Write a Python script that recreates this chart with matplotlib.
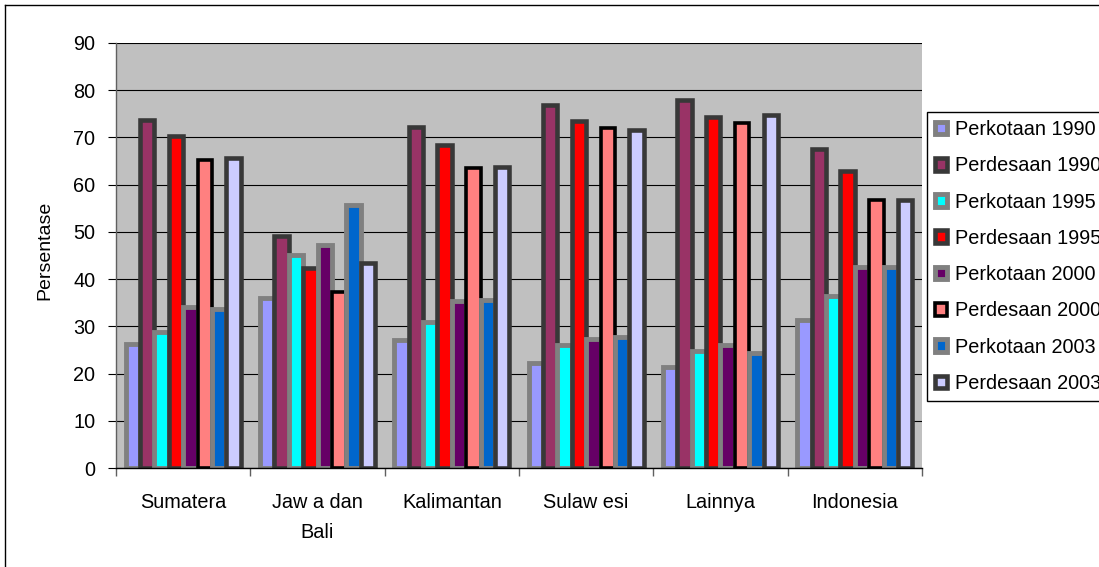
import numpy as np
import matplotlib
matplotlib.use("Agg")
import matplotlib.pyplot as plt
from matplotlib.lines import Line2D

plt.rcParams['font.family'] = ['Liberation Sans', 'DejaVu Sans']

# Data
regions = ["Sumatera", "Jaw a dan\nBali", "Kalimantan", "Sulaw esi", "Lainnya", "Indonesia"]

perkotaan_1990 = [26.3, 36.0, 27.1, 22.2, 21.4, 31.4]
perdesaan_1990 = [73.8, 49.2, 72.2, 76.9, 78.0, 67.6]
perkotaan_1995 = [28.8, 45.1, 30.9, 26.1, 24.8, 36.4]
perdesaan_1995 = [70.4, 42.4, 68.4, 73.5, 74.4, 62.9]
perkotaan_2000 = [34.1, 47.2, 35.4, 27.3, 26.1, 42.6]
perdesaan_2000 = [65.3, 37.3, 63.6, 72.0, 73.1, 56.8]
perkotaan_2003 = [33.7, 55.8, 35.6, 27.8, 24.4, 42.6]
perdesaan_2003 = [65.7, 43.4, 63.8, 71.6, 74.8, 56.8]

series_names = ["Perkotaan 1990", "Perdesaan 1990", "Perkotaan 1995", "Perdesaan 1995",
                "Perkotaan 2000", "Perdesaan 2000", "Perkotaan 2003", "Perdesaan 2003"]
series_values = [perkotaan_1990, perdesaan_1990, perkotaan_1995, perdesaan_1995,
                 perkotaan_2000, perdesaan_2000, perkotaan_2003, perdesaan_2003]
fill_colors = ["#9999FF", "#993366", "#00FFFF", "#FF0000",
               "#660066", "#FF8080", "#0066CC", "#CCCCFF"]
edge_colors = ["#808080", "#383838", "#808080", "#383838",
               "#808080", "#000000", "#808080", "#383838"]
edge_widths = [3.5, 3.3, 3.5, 3.3, 3.5, 2.6, 3.5, 3.3]

W, H = 1099, 567
fig = plt.figure(figsize=(W / 100, H / 100), dpi=100)
ax = fig.add_axes([116 / W, 1 - 468 / H, 806 / W, 425 / H])
ax.set_facecolor("#C0C0C0")

x = np.arange(len(regions))
pitch = 0.107
handles = []
for i, (vals, fc, ec, lw) in enumerate(zip(series_values, fill_colors, edge_colors, edge_widths)):
    bars = ax.bar(x + (i - 3.5) * pitch, vals, width=pitch, color=fc,
                  edgecolor=ec, linewidth=lw, joinstyle="miter", zorder=2 + i * 0.01)
    handles.append(bars)

ax.set_xlim(-0.5, len(regions) - 0.5)
ax.set_ylim(0, 90)
ax.set_yticks(np.arange(0, 91, 10))
ax.yaxis.grid(True, color="black", linewidth=0.8)
ax.set_axisbelow(True)

ax.set_xticks(x)
ax.set_xticklabels(regions, fontsize=14.3, linespacing=1.75)
ax.set_xticks(np.arange(-0.5, len(regions), 1.0), minor=True)
ax.tick_params(axis="x", which="major", length=0, pad=18)
ax.tick_params(axis="x", which="minor", length=6, width=1, color="#606060", direction="out")
ax.tick_params(axis="y", length=6, width=0.8, color="black", direction="out", pad=9, labelsize=14.3)

for side in ("top", "right"):
    ax.spines[side].set_visible(False)
ax.spines["left"].set_color("#606060")
ax.spines["left"].set_linewidth(1.0)
ax.spines["bottom"].set_color("black")
ax.spines["bottom"].set_linewidth(1.0)

fig.text(45 / W, 1 - 250 / H, "Persentase", rotation=90, fontsize=14,
         ha="center", va="center")

leg = fig.legend(handles, series_names, loc="upper left",
                 bbox_to_anchor=(927 / W, 1 - 112 / H), bbox_transform=fig.transFigure,
                 frameon=True, fancybox=False, edgecolor="black", framealpha=1,
                 borderaxespad=0, borderpad=0.4, labelspacing=0.87,
                 handlelength=0.6, handleheight=0.6, handletextpad=0.4, fontsize=14.3)
leg.get_frame().set_linewidth(1.0)

# Chart frame (top and left edges)
fig.add_artist(Line2D([4.5 / W, 4.5 / W], [0, 1 - 4.5 / H], transform=fig.transFigure,
                      color="black", linewidth=1.0))
fig.add_artist(Line2D([4.5 / W, 1], [1 - 4.5 / H, 1 - 4.5 / H], transform=fig.transFigure,
                      color="black", linewidth=1.0))

fig.savefig("out.png", dpi=100)
